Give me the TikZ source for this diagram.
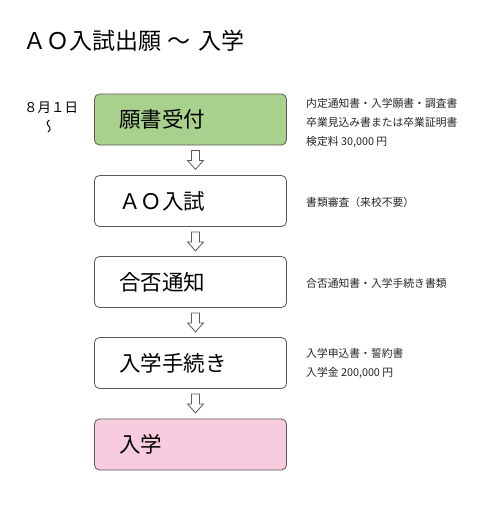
\documentclass[tikz,border=0pt]{standalone}
\usepackage{fontspec}
\newfontfamily\jp{Noto Sans CJK JP}
\usetikzlibrary{calc}
\definecolor{boxgreen}{RGB}{169,209,142}
\definecolor{boxpink}{RGB}{248,203,222}
\definecolor{edge}{RGB}{90,90,90}
\tikzset{
  stepbox/.style={draw=edge, line width=0.8pt, rounded corners=5pt, fill=white,
    minimum height=51pt, text width=143pt, inner xsep=24.5pt, inner ysep=0pt, align=left,
    font=\jp\fontsize{21.5}{24}\selectfont},
  note/.style={anchor=base west, inner sep=0pt, font=\jp\fontsize{10.8}{13}\selectfont, text=black!85},
  hollow/.style={draw=edge, line width=0.8pt, fill=white, line join=miter},
}
\newcommand\hollowdown[1]{%
  \draw[hollow] ($(#1.south)+(1pt,-5pt)$) -- ++(8pt,0) -- ++(0,-10pt) -- ++(4pt,0)
    -- ++(-8pt,-9pt) -- ++(-8pt,9pt) -- ++(4pt,0) -- cycle;}
\begin{document}
\begin{tikzpicture}[x=1pt,y=1pt]
\useasboundingbox (0,0) rectangle (500,-506);
\fill[white] (0,0) rectangle (500,-506);
% title
\node[anchor=base west, inner sep=0pt, font=\jp\fontsize{23}{27}\selectfont] (title) at (23,-49.8) {ＡＯ入試出願\hspace{6.5pt}～\hspace{7.5pt}入学};
% date
\node[anchor=base, inner sep=0pt, font=\jp\fontsize{13.5}{16}\selectfont] (date) at (51,-112.6) {８月１日};
\node[inner sep=0pt, font=\jp\fontsize{14}{16}\selectfont, rotate=90, xscale=-1] (wave) at (51,-126.5) {～};
% boxes
\node[stepbox, fill=boxgreen] (b1) at (190.5,-119.5) {願書受付};
\node[stepbox] (b2) at (190.5,-201) {ＡＯ入試};
\node[stepbox] (b3) at (190.5,-282) {合否通知};
\node[stepbox] (b4) at (190.5,-363) {入学手続き};
\node[stepbox, fill=boxpink] (b5) at (190.5,-444.5) {入学};
% arrows
\hollowdown{b1}
\hollowdown{b2}
\hollowdown{b3}
\hollowdown{b4}
% notes
\node[note] (n1a) at (306,-107) {内定通知書・入学願書・調査書};
\node[note] (n1b) at (306,-126) {卒業見込み書または卒業証明書};
\node[note] (n1c) at (306,-145) {検定料 30,000 円};
\node[note] (n2) at (306,-206) {書類審査（来校不要）};
\node[note] (n3) at (306,-287) {合否通知書・入学手続き書類};
\node[note] (n4a) at (306,-357) {入学申込書・誓約書};
\node[note] (n4b) at (306,-376) {入学金 200,000 円};
\end{tikzpicture}
\end{document}
